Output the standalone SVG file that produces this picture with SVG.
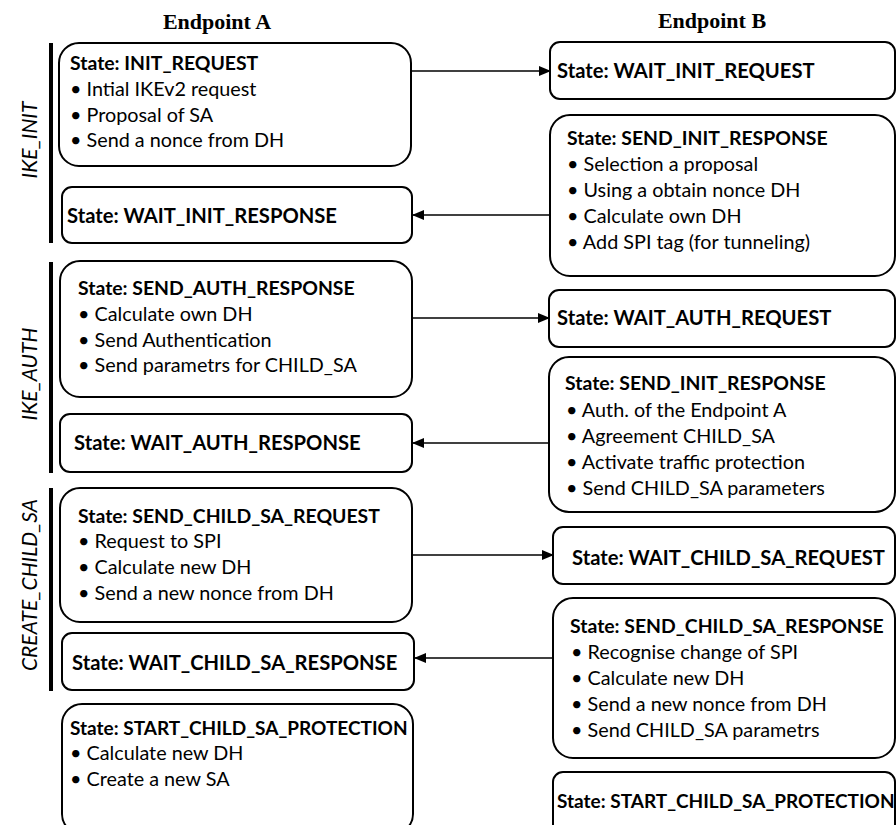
<svg xmlns="http://www.w3.org/2000/svg" width="896" height="825" viewBox="0 0 896 825">
<style>
.box{fill:#fff;stroke:#000;stroke-width:2}
.hdr{font-family:"Liberation Serif","Times New Roman",serif;font-weight:bold;font-size:22px;fill:#000}
.t{font-family:Lato,"Liberation Sans",sans-serif;font-weight:bold;font-size:19.4px;fill:#000}
.tl{font-family:Lato,"Liberation Sans",sans-serif;font-weight:bold;font-size:20.2px;fill:#000}
.b{font-family:Lato,"Liberation Sans",sans-serif;font-size:19.8px;fill:#000}
.ph{font-family:Lato,"Liberation Sans",sans-serif;font-style:italic;font-size:21px;fill:#000}
.bar{stroke:#000;stroke-width:4}
.con{stroke:#000;stroke-width:1.6;fill:none;marker-end:url(#ah)}
</style>
<defs>
<marker id="ah" markerWidth="12" markerHeight="10" refX="11" refY="5" orient="auto" markerUnits="userSpaceOnUse">
<path d="M0,0 L12,5 L0,10 Z" fill="#000"/>
</marker>
</defs>
<rect width="896" height="825" fill="#fff"/>
<text class="hdr" x="217" y="29" text-anchor="middle">Endpoint A</text>
<text class="hdr" x="712" y="28" text-anchor="middle">Endpoint B</text>

<g id="phases">
<line class="bar" x1="51" y1="43" x2="51" y2="243"/>
<line class="bar" x1="51" y1="262" x2="51" y2="473"/>
<line class="bar" x1="51" y1="488" x2="51" y2="691"/>
<text class="ph" transform="translate(37,140) rotate(-90)" text-anchor="middle">IKE_INIT</text>
<text class="ph" transform="translate(37,374) rotate(-90)" text-anchor="middle">IKE_AUTH</text>
<text class="ph" transform="translate(37,585) rotate(-90)" text-anchor="middle">CREATE_CHILD_SA</text>
</g>

<g id="connectors">
<line class="con" x1="411" y1="71" x2="550" y2="71"/>
<line class="con" x1="550" y1="215" x2="413" y2="215"/>
<line class="con" x1="412" y1="318" x2="549" y2="318"/>
<line class="con" x1="549" y1="443" x2="413" y2="443"/>
<line class="con" x1="412" y1="555" x2="553" y2="555"/>
<line class="con" x1="553" y1="658" x2="415" y2="658"/>
</g>

<g id="a-init-request">
<rect class="box" x="59" y="43" width="352" height="123" rx="20"/>
<text class="t" x="70" y="70">State: INIT_REQUEST</text>
<text class="b" x="70" y="96">• Intial IKEv2 request</text>
<text class="b" x="70" y="122">• Proposal of SA</text>
<text class="b" x="70" y="147">• Send a nonce from DH</text>
</g>
<g id="a-wait-init-response">
<rect class="box" x="62" y="187" width="350" height="56" rx="10"/>
<text class="tl" x="67" y="223">State: WAIT_INIT_RESPONSE</text>
</g>
<g id="a-send-auth-response">
<rect class="box" x="60" y="261" width="352" height="136" rx="20"/>
<text class="t" x="78" y="295">State: SEND_AUTH_RESPONSE</text>
<text class="b" x="78" y="321">• Calculate own DH</text>
<text class="b" x="78" y="347">• Send Authentication</text>
<text class="b" x="78" y="372">• Send parametrs for CHILD_SA</text>
</g>
<g id="a-wait-auth-response">
<rect class="box" x="60" y="414" width="352" height="58" rx="10"/>
<text class="tl" x="74" y="450">State: WAIT_AUTH_RESPONSE</text>
</g>
<g id="a-send-child-sa-request">
<rect class="box" x="60" y="488" width="352" height="134" rx="20"/>
<text class="t" x="78" y="523">State: SEND_CHILD_SA_REQUEST</text>
<text class="b" x="78" y="548">• Request to SPI</text>
<text class="b" x="78" y="574">• Calculate new DH</text>
<text class="b" x="78" y="600">• Send a new nonce from DH</text>
</g>
<g id="a-wait-child-sa-response">
<rect class="box" x="62" y="633" width="352" height="57" rx="10"/>
<text class="tl" x="72" y="670">State: WAIT_CHILD_SA_RESPONSE</text>
</g>
<g id="a-start-child-sa-protection">
<rect class="box" x="62" y="704" width="351" height="130" rx="20"/>
<text class="t" x="70" y="735" style="font-size:19px">State: START_CHILD_SA_PROTECTION</text>
<text class="b" x="70" y="760">• Calculate new DH</text>
<text class="b" x="70" y="786">• Create a new SA</text>
</g>

<g id="b-wait-init-request">
<rect class="box" x="550" y="42" width="345" height="57" rx="10"/>
<text class="tl" x="557" y="78">State: WAIT_INIT_REQUEST</text>
</g>
<g id="b-send-init-response">
<rect class="box" x="550" y="115" width="345" height="161" rx="20"/>
<text class="t" x="567" y="145">State: SEND_INIT_RESPONSE</text>
<text class="b" x="567" y="171">• Selection a proposal</text>
<text class="b" x="567" y="197">• Using a obtain nonce DH</text>
<text class="b" x="567" y="223">• Calculate own DH</text>
<text class="b" x="567" y="249">• Add SPI tag (for tunneling)</text>
</g>
<g id="b-wait-auth-request">
<rect class="box" x="549" y="290" width="346" height="57" rx="10"/>
<text class="tl" x="557" y="325">State: WAIT_AUTH_REQUEST</text>
</g>
<g id="b-send-init-response-2">
<rect class="box" x="549" y="357" width="346" height="155" rx="20"/>
<text class="t" x="565" y="390">State: SEND_INIT_RESPONSE</text>
<text class="b" x="566" y="417">• Auth. of the Endpoint A</text>
<text class="b" x="566" y="443">• Agreement CHILD_SA</text>
<text class="b" x="566" y="469">• Activate traffic protection</text>
<text class="b" x="566" y="495">• Send CHILD_SA parameters</text>
</g>
<g id="b-wait-child-sa-request">
<rect class="box" x="553" y="527" width="342" height="57" rx="10"/>
<text class="tl" x="572" y="565">State: WAIT_CHILD_SA_REQUEST</text>
</g>
<g id="b-send-child-sa-response">
<rect class="box" x="553" y="598" width="342" height="160" rx="20"/>
<text class="t" x="570" y="633">State: SEND_CHILD_SA_RESPONSE</text>
<text class="b" x="571" y="659">• Recognise change of SPI</text>
<text class="b" x="571" y="685">• Calculate new DH</text>
<text class="b" x="571" y="711">• Send a new nonce from DH</text>
<text class="b" x="571" y="737">• Send CHILD_SA parametrs</text>
</g>
<g id="b-start-child-sa-protection">
<rect class="box" x="553" y="772" width="342" height="70" rx="10"/>
<text class="t" x="557" y="808" style="font-size:19px">State: START_CHILD_SA_PROTECTION</text>
</g>
</svg>
